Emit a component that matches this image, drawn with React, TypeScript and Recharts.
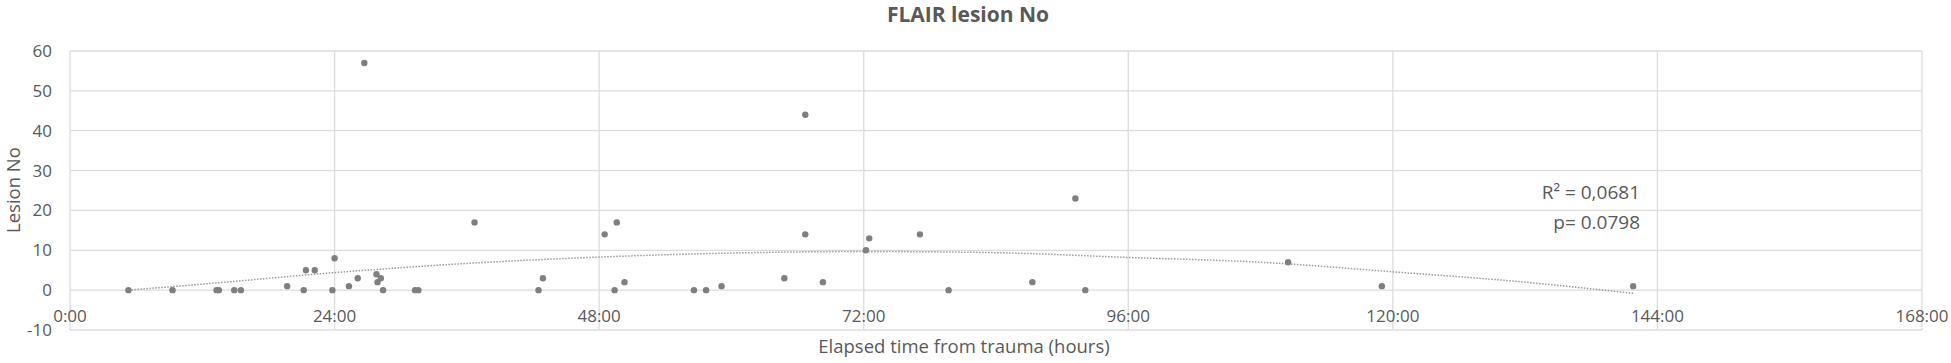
import {
  ComposedChart,
  Scatter,
  Line,
  XAxis,
  YAxis,
  CartesianGrid,
} from 'recharts'

// elapsed time from trauma (hours) and FLAIR lesion count per patient
const elapsedHours = [
  5.3, 9.3, 13.3, 13.5, 14.9, 15.5, 19.7, 21.2, 21.4, 22.2, 23.8, 24.0, 25.3,
  26.1, 26.7, 27.8, 27.9, 28.2, 28.4, 31.3, 31.6, 36.7, 42.5, 42.9, 48.5, 49.4,
  49.6, 50.3, 56.6, 57.7, 59.1, 64.8, 66.7, 66.7, 68.3, 72.2, 72.5, 77.1, 79.7,
  87.3, 91.2, 92.1, 110.5, 119.0, 141.8,
]
const lesionCounts = [
  0, 0, 0, 0, 0, 0, 1, 0, 5, 5, 0, 8, 1,
  3, 57, 4, 2, 3, 0, 0, 0, 17, 0, 3, 14, 0,
  17, 2, 0, 0, 1, 3, 44, 14, 2, 10, 13, 14, 0,
  2, 23, 0, 7, 1, 1,
]

// polynomial (order 2) trendline as drawn in the picture
const trendHours = [5.3, 12, 24, 36, 48, 60, 72, 84, 96, 108, 120, 132, 141.8]
const trendValues = [0, 1.5, 4.4, 6.7, 8.3, 9.3, 9.7, 9.4, 8.2, 7.0, 4.6, 2.0, -0.8]

const xTicks = [0, 24, 48, 72, 96, 120, 144, 168]
const yTicks = [-10, 0, 10, 20, 30, 40, 50, 60]

const points = elapsedHours.map((x, i) => ({ x, y: lesionCounts[i] }))
const trend = trendHours.map((x, i) => ({ x, trend: trendValues[i] }))

const font = '"Open Sans", sans-serif'
const grey = '#595959'

const XTick = (props: any) => {
  const { x, y, payload } = props
  return (
    <text x={x} y={y - 15} textAnchor="middle" dominantBaseline="central"
      fill={grey} fontSize={17} fontFamily={font}>
      {payload.value + ':00'}
    </text>
  )
}

export default function App() {
  return (
    <div style={{ position: 'relative', width: 1951, height: 363, background: '#fff' }}>
      <style>{'body{margin:0}'}</style>
      <ComposedChart
        width={1951}
        height={363}
        margin={{ top: 51, right: 29, bottom: 0, left: 20 }}
      >
        <CartesianGrid stroke="#dcdcdc" strokeWidth={1.3} />
        <XAxis
          dataKey="x"
          type="number"
          domain={[0, 168]}
          ticks={xTicks}
          interval={0}
          height={33}
          axisLine={false}
          tickLine={false}
          tickSize={0}
          tickMargin={0}
          tick={<XTick />}
        />
        <YAxis
          type="number"
          domain={[-10, 60]}
          ticks={yTicks}
          interval={0}
          width={50}
          axisLine={false}
          tickLine={false}
          tickMargin={12}
          tick={{ fill: grey, fontSize: 17, fontFamily: font }}
        />
        <Line
          data={trend}
          dataKey="trend"
          type="monotone"
          stroke="#9a9a9a"
          strokeWidth={1.5}
          strokeDasharray="1.5 1.5"
          dot={false}
          isAnimationActive={false}
        />
        <Scatter
          data={points}
          dataKey="y"
          isAnimationActive={false}
          shape={(p: any) => <circle cx={p.cx} cy={p.cy} r={3.2} fill="#7f7f7f" />}
        />
      </ComposedChart>
      <div style={{ position: 'absolute', left: 968, top: 14, transform: 'translate(-50%,-50%)',
        fontFamily: font, fontSize: 21, fontWeight: 700, color: grey, whiteSpace: 'nowrap' }}>
        FLAIR lesion No
      </div>
      <div style={{ position: 'absolute', left: 964, top: 345, transform: 'translate(-50%,-50%)',
        fontFamily: font, fontSize: 18.5, color: grey, whiteSpace: 'nowrap' }}>
        Elapsed time from trauma (hours)
      </div>
      <div style={{ position: 'absolute', left: 12, top: 190, transform: 'translate(-50%,-50%) rotate(-90deg)',
        fontFamily: font, fontSize: 18.5, color: grey, whiteSpace: 'nowrap' }}>
        Lesion No
      </div>
      <div style={{ position: 'absolute', right: 1951 - 1640, top: 177, textAlign: 'right',
        fontFamily: font, fontSize: 19, color: grey, whiteSpace: 'nowrap', lineHeight: '30px' }}>
        R² = 0,0681<br />p= 0.0798
      </div>
    </div>
  )
}
